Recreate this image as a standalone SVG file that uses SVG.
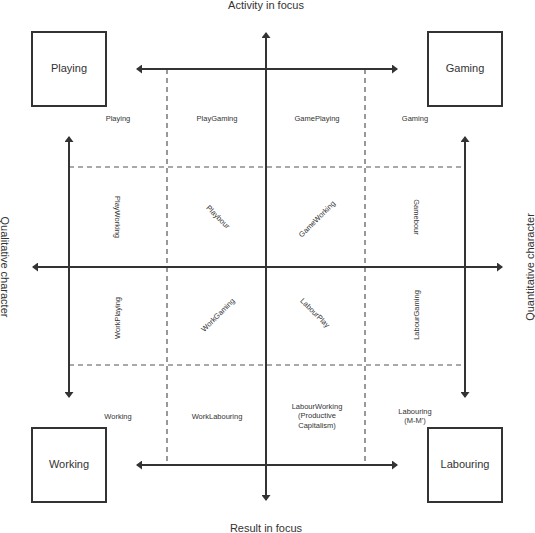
<svg xmlns="http://www.w3.org/2000/svg" width="535" height="533" viewBox="0 0 535 533">
<style>
.box{fill:#fff;stroke:#333;stroke-width:2}
.ax{stroke:#333;stroke-width:2;fill:none}
.ds{stroke:#555;stroke-width:1.2;stroke-dasharray:5 4;fill:none}
text{font-family:"Liberation Sans",Arial,sans-serif;fill:#333;text-anchor:middle;dominant-baseline:central}
.big{font-size:11px}
.sm{font-size:7.5px}
</style>
<defs>
<marker id="ah" viewBox="0 0 6 9" refX="5" refY="4.5" markerWidth="6" markerHeight="9" markerUnits="userSpaceOnUse" orient="auto-start-reverse">
<path d="M0,0 L6,4.5 L0,9 z" fill="#333"/>
</marker>
</defs>
<rect width="535" height="533" fill="#fff"/>
<g id="connectors">
<line class="ds" x1="167" y1="69" x2="167" y2="465"/>
<line class="ds" x1="365" y1="69" x2="365" y2="465"/>
<line class="ds" x1="69" y1="167" x2="465" y2="167"/>
<line class="ds" x1="69" y1="365" x2="465" y2="365"/>
<line class="ax" x1="266" y1="33" x2="266" y2="500" marker-start="url(#ah)" marker-end="url(#ah)"/>
<line class="ax" x1="33" y1="267" x2="502" y2="267" marker-start="url(#ah)" marker-end="url(#ah)"/>
<line class="ax" x1="137" y1="69" x2="397" y2="69" marker-start="url(#ah)" marker-end="url(#ah)"/>
<line class="ax" x1="137" y1="465" x2="397" y2="465" marker-start="url(#ah)" marker-end="url(#ah)"/>
<line class="ax" x1="69" y1="137" x2="69" y2="397" marker-start="url(#ah)" marker-end="url(#ah)"/>
<line class="ax" x1="465" y1="137" x2="465" y2="397" marker-start="url(#ah)" marker-end="url(#ah)"/>
</g>
<g id="axis-labels">
<text class="big" x="266" y="5">Activity in focus</text>
<text class="big" x="266" y="528">Result in focus</text>
<text class="big" transform="translate(5,267) rotate(90)">Qualitative character</text>
<text class="big" transform="translate(530,267) rotate(-90)">Quantitative character</text>
</g>
<g id="node-playing"><rect class="box" x="32" y="32" width="74" height="74"/><text class="big" x="69" y="68">Playing</text></g>
<g id="node-gaming"><rect class="box" x="428" y="32" width="74" height="74"/><text class="big" x="465" y="68">Gaming</text></g>
<g id="node-working"><rect class="box" x="32" y="428" width="74" height="74"/><text class="big" x="69" y="464">Working</text></g>
<g id="node-labouring"><rect class="box" x="428" y="428" width="74" height="74"/><text class="big" x="465" y="464">Labouring</text></g>
<g id="cell-labels">
<text class="sm" x="118" y="118">Playing</text>
<text class="sm" x="217" y="118">PlayGaming</text>
<text class="sm" x="317" y="118">GamePlaying</text>
<text class="sm" x="415" y="118">Gaming</text>
<text class="sm" transform="translate(117,217) rotate(90)">PlayWorking</text>
<text class="sm" transform="translate(218,217) rotate(45)">Playbour</text>
<text class="sm" transform="translate(317,219) rotate(-45)">GameWorking</text>
<text class="sm" transform="translate(416,217) rotate(90)">Gamebour</text>
<text class="sm" transform="translate(117,318) rotate(-90)">WorkPlaying</text>
<text class="sm" transform="translate(218,315) rotate(-45)">WorkGaming</text>
<text class="sm" transform="translate(315,313) rotate(45)">LabourPlay</text>
<text class="sm" transform="translate(416,315) rotate(-90)">LabourGaming</text>
<text class="sm" x="118" y="416">Working</text>
<text class="sm" x="217" y="416">WorkLabouring</text>
<text class="sm" x="317" y="406">LabourWorking</text>
<text class="sm" x="317" y="415.5">(Productive</text>
<text class="sm" x="317" y="425">Capitalism)</text>
<text class="sm" x="415" y="411">Labouring</text>
<text class="sm" x="415" y="420.5">(M-M')</text>
</g>
</svg>
